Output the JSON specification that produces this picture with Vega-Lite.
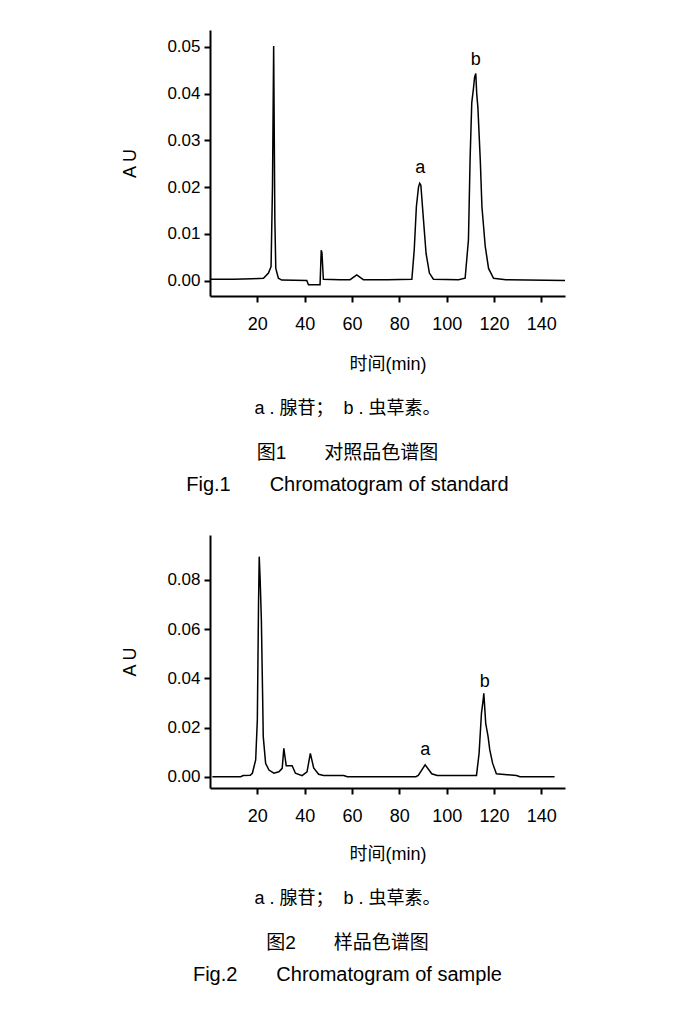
{
  "$schema": "https://vega.github.io/schema/vega-lite/v6.json",
  "padding": {"left": 121, "top": 30, "right": 5, "bottom": 5},
  "background": "white",
  "config": {
    "view": {"stroke": null},
    "font": "Liberation Sans, Noto Sans CJK SC",
    "axis": {"domainColor": "black", "domainWidth": 2, "tickColor": "black", "tickWidth": 2, "tickSize": 6, "labelFont": "Liberation Sans", "labelFontSize": 17, "labelColor": "black", "titleFont": "Liberation Sans, Noto Sans CJK SC", "titleFontSize": 18, "titleFontWeight": "normal", "titleColor": "black", "grid": false},
    "title": {"font": "Liberation Sans, Noto Sans CJK SC", "color": "black", "fontWeight": "normal", "anchor": "middle", "frame": "bounds", "orient": "bottom", "subtitleFont": "Liberation Sans, Noto Sans CJK SC", "subtitleColor": "black"}
  },
  "datasets": {
    "std": [
      {"t": 0, "au": 0.0003}, {"t": 10, "au": 0.0003}, {"t": 18, "au": 0.0004}, {"t": 22.6, "au": 0.0005}, {"t": 24.7, "au": 0.0016}, {"t": 25.8, "au": 0.003}, {"t": 26.4, "au": 0.02}, {"t": 26.9, "au": 0.0502}, {"t": 27.4, "au": 0.013}, {"t": 27.8, "au": 0.0026}, {"t": 28.9, "au": 0.0005}, {"t": 30.3, "au": 0.0001}, {"t": 40.9, "au": 0.0}, {"t": 41.6, "au": -0.0009}, {"t": 46.5, "au": -0.0009}, {"t": 47.0, "au": 0.0065}, {"t": 47.3, "au": 0.006}, {"t": 47.9, "au": 0.0003}, {"t": 55, "au": 0.0002}, {"t": 59.2, "au": 0.0002}, {"t": 62, "au": 0.0012}, {"t": 64.8, "au": 0.0002}, {"t": 75, "au": 0.0002}, {"t": 85.3, "au": 0.0003}, {"t": 86.3, "au": 0.0066}, {"t": 87.2, "au": 0.0158}, {"t": 88.1, "au": 0.02}, {"t": 88.6, "au": 0.0208}, {"t": 89.1, "au": 0.0204}, {"t": 90.2, "au": 0.013}, {"t": 91.3, "au": 0.0058}, {"t": 92.7, "au": 0.0016}, {"t": 94.4, "au": 0.0003}, {"t": 105, "au": 0.0002}, {"t": 107.8, "au": 0.0005}, {"t": 109.2, "au": 0.0087}, {"t": 109.9, "au": 0.026}, {"t": 110.6, "au": 0.038}, {"t": 111.3, "au": 0.041}, {"t": 111.8, "au": 0.0435}, {"t": 112.3, "au": 0.0443}, {"t": 112.7, "au": 0.04}, {"t": 113.2, "au": 0.037}, {"t": 114.2, "au": 0.0258}, {"t": 114.9, "au": 0.0158}, {"t": 116.3, "au": 0.0073}, {"t": 117.7, "au": 0.0026}, {"t": 119.8, "au": 0.0005}, {"t": 125, "au": 0.0002}, {"t": 150, "au": 0.0}
    ],
    "smp": [
      {"t": 1, "au": 0}, {"t": 13, "au": 0}, {"t": 14, "au": 0.0005}, {"t": 17, "au": 0.0006}, {"t": 17.9, "au": 0.0014}, {"t": 19.3, "au": 0.0068}, {"t": 20.0, "au": 0.023}, {"t": 20.5, "au": 0.07}, {"t": 20.8, "au": 0.0895}, {"t": 21.2, "au": 0.08}, {"t": 21.7, "au": 0.064}, {"t": 22.2, "au": 0.035}, {"t": 22.5, "au": 0.0163}, {"t": 23.5, "au": 0.0054}, {"t": 24.9, "au": 0.0027}, {"t": 27, "au": 0.0014}, {"t": 29.1, "au": 0.002}, {"t": 30.5, "au": 0.0034}, {"t": 31.2, "au": 0.0115}, {"t": 31.7, "au": 0.008}, {"t": 32.2, "au": 0.0045}, {"t": 34.7, "au": 0.0045}, {"t": 36.1, "au": 0.0014}, {"t": 38.9, "au": 0.0004}, {"t": 41.0, "au": 0.002}, {"t": 42.4, "au": 0.0095}, {"t": 43.8, "au": 0.0036}, {"t": 45.9, "au": 0.001}, {"t": 48, "au": 0.0005}, {"t": 56.5, "au": 0.0005}, {"t": 58, "au": 0}, {"t": 87, "au": 0}, {"t": 88, "au": 0.0005}, {"t": 90.9, "au": 0.0048}, {"t": 93.7, "au": 0.0012}, {"t": 96, "au": 0.0005}, {"t": 112.6, "au": 0.0005}, {"t": 113.7, "au": 0.0095}, {"t": 114.7, "au": 0.0258}, {"t": 115.4, "au": 0.031}, {"t": 115.7, "au": 0.0339}, {"t": 116.5, "au": 0.0217}, {"t": 117.5, "au": 0.0163}, {"t": 118.2, "au": 0.011}, {"t": 119.4, "au": 0.0055}, {"t": 121, "au": 0.0012}, {"t": 129.5, "au": 0.0005}, {"t": 131, "au": 0}, {"t": 145.6, "au": 0}
    ],
    "lab1": [{"t": 88.8, "au": 0.0241, "label": "a"}, {"t": 112.3, "au": 0.0472, "label": "b"}],
    "lab2": [{"t": 90.9, "au": 0.0109, "label": "a"}, {"t": 116.1, "au": 0.0384, "label": "b"}]
  },
  "spacing": 40,
  "vconcat": [
    {
      "title": {"text": "图1\u3000\u3000对照品色谱图", "fontSize": 19, "offset": 26, "dx": 4, "subtitle": "Fig.1\u00a0\u00a0\u00a0\u00a0\u00a0\u00a0\u00a0Chromatogram of standard", "subtitleFontSize": 20, "subtitlePadding": 12},
      "vconcat": [
        {
          "title": {"text": "a . 腺苷；\u00a0 b . 虫草素。", "fontSize": 18, "offset": 27, "dx": 4},
          "width": 355,
          "height": 266,
          "layer": [
            {
              "data": {"name": "std"},
              "mark": {"type": "line", "color": "black", "strokeWidth": 1.5, "clip": true},
              "encoding": {
                "x": {"field": "t", "type": "quantitative", "scale": {"domain": [0, 150], "nice": false, "zero": false}, "axis": {"values": [20, 40, 60, 80, 100, 120, 140], "title": "时间(min)", "labelPadding": 13, "titlePadding": 22, "labelFontSize": 18}},
                "y": {"field": "au", "type": "quantitative", "scale": {"domain": [-0.0033, 0.0536], "nice": false, "zero": false}, "axis": {"values": [0, 0.01, 0.02, 0.03, 0.04, 0.05], "format": ".2f", "title": "A U", "labelPadding": 4, "titlePadding": 27}}
              }
            },
            {
              "data": {"name": "lab1"},
              "mark": {"type": "text", "fontSize": 18, "font": "Liberation Sans", "color": "black", "baseline": "middle", "align": "center"},
              "encoding": {"x": {"field": "t", "type": "quantitative"}, "y": {"field": "au", "type": "quantitative"}, "text": {"field": "label"}}
            }
          ]
        }
      ]
    },
    {
      "title": {"text": "图2\u3000\u3000样品色谱图", "fontSize": 19, "offset": 26, "dx": 4, "subtitle": "Fig.2\u00a0\u00a0\u00a0\u00a0\u00a0\u00a0\u00a0Chromatogram of sample", "subtitleFontSize": 20, "subtitlePadding": 12},
      "vconcat": [
        {
          "title": {"text": "a . 腺苷；\u00a0 b . 虫草素。", "fontSize": 18, "offset": 27, "dx": 4},
          "width": 355,
          "height": 253,
          "layer": [
            {
              "data": {"name": "smp"},
              "mark": {"type": "line", "color": "black", "strokeWidth": 1.5, "clip": true},
              "encoding": {
                "x": {"field": "t", "type": "quantitative", "scale": {"domain": [0, 150], "nice": false, "zero": false}, "axis": {"values": [20, 40, 60, 80, 100, 120, 140], "title": "时间(min)", "labelPadding": 13, "titlePadding": 20, "labelFontSize": 18}},
                "y": {"field": "au", "type": "quantitative", "scale": {"domain": [-0.0046, 0.0983], "nice": false, "zero": false}, "axis": {"values": [0, 0.02, 0.04, 0.06, 0.08], "format": ".2f", "title": "A U", "labelPadding": 4, "titlePadding": 27}}
              }
            },
            {
              "data": {"name": "lab2"},
              "mark": {"type": "text", "fontSize": 18, "font": "Liberation Sans", "color": "black", "baseline": "middle", "align": "center"},
              "encoding": {"x": {"field": "t", "type": "quantitative"}, "y": {"field": "au", "type": "quantitative"}, "text": {"field": "label"}}
            }
          ]
        }
      ]
    }
  ]
}
